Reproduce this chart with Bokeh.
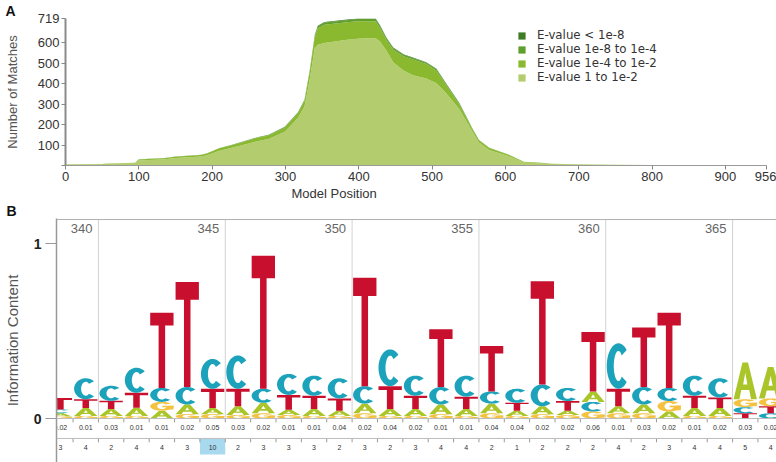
import numpy as np
from bokeh.plotting import figure
from bokeh.models import (ColumnDataSource, Legend, LegendItem, FixedTicker, Title,
                          Span, Range1d)
from bokeh.layouts import column
from bokeh.embed import file_html
from bokeh.resources import INLINE
from bokeh.core.properties import value

# ---------------- Panel A data ----------------
model_pos = [0, 50, 55, 95, 100, 135, 150, 185, 193, 210, 227, 250, 263, 277, 299, 317, 326,
             333, 340, 344, 353, 384, 398, 411, 423, 429, 438, 447, 461, 474, 492, 506, 519,
             537, 555, 564, 578, 605, 625, 654, 663, 700, 739, 800, 900, 956]
ev_1_to_1e2 = [5, 6, 8, 12, 25, 31, 37, 44, 50, 72, 87, 108, 120, 130, 165, 232, 290,
               420, 576, 590, 599, 615, 620, 623, 623, 607, 560, 505, 465, 441, 426, 402, 355,
               276, 166, 112, 76, 45, 15, 10, 7, 5, 3, 2, 2, 2]
ev_1e4_to_1e2 = [1, 1, 2, 2, 4, 5, 6, 7, 9, 12, 12, 15, 17, 17, 20, 23, 26,
                 36, 51, 80, 90, 86, 86, 83, 83, 66, 52, 61, 69, 77, 70, 62, 39,
                 24, 11, 10, 10, 6, 3, 2, 1, 1, 1, 1, 1, 1]
ev_1e8_to_1e4 = [0, 0, 0, 0, 1, 1, 1, 1, 1, 1, 2, 2, 2, 2, 3, 4, 5,
                 7, 9, 10, 10, 10, 10, 10, 10, 10, 9, 8, 8, 8, 7, 7, 6,
                 5, 3, 2, 1, 1, 0, 0, 0, 0, 0, 0, 0, 0]
ev_lt_1e8 = [0, 0, 0, 0, 0, 0, 0, 0, 0, 0, 1, 1, 1, 1, 1, 1, 2,
             2, 3, 3, 3, 3, 3, 3, 3, 3, 3, 3, 2, 2, 2, 2, 2,
             2, 1, 1, 0, 0, 0, 0, 0, 0, 0, 0, 0, 0]
series_labels = ["E-value 1 to 1e-2", "E-value 1e-4 to 1e-2",
                 "E-value 1e-8 to 1e-4", "E-value < 1e-8"]
x_ticks_A = [0, 100, 200, 300, 400, 500, 600, 700, 800, 900, 956]
y_ticks_A = [0, 100, 200, 300, 400, 500, 600, 719]

# ---------------- Panel B data ----------------
logo_pos = list(range(339, 368))
info_G = [0.012, 0.015, 0.015, 0.015, 0.05, 0.025, 0.025, 0.02, 0.03, 0.02, 0.015, 0.015,
          0.03, 0.015, 0.015, 0.025, 0.015, 0.03, 0.015, 0.025, 0.02, 0.04, 0.03, 0.03,
          0.06, 0.015, 0.015, 0.045, 0.045]
info_A = [0.018, 0.045, 0.04, 0.046, 0.045, 0.055, 0.035, 0.05, 0.06, 0.03, 0.04, 0.03,
          0.055, 0.04, 0.04, 0.055, 0.04, 0.055, 0.03, 0.045, 0.025, 0.06, 0.04, 0.05,
          0.04, 0.045, 0.045, 0.21, 0.18]
info_C = [0.022, 0.12, 0.086, 0.143, 0.08, 0.1, 0.17, 0.19, 0.08, 0.12, 0.115, 0.115,
          0.1, 0.21, 0.115, 0.1, 0.12, 0.07, 0.08, 0.125, 0.075, 0.055, 0.26, 0.1,
          0.075, 0.115, 0.11, 0.035, 0.03]
info_T = [0.065, 0.05, 0.046, 0.086, 0.43, 0.6, 0.11, 0.1, 0.76, 0.085, 0.075, 0.07,
          0.62, 0.13, 0.075, 0.33, 0.07, 0.26, 0.045, 0.59, 0.055, 0.34, 0.1, 0.34,
          0.43, 0.07, 0.06, 0.03, 0.04]
col_score = [0.02, 0.01, 0.03, 0.01, 0.01, 0.02, 0.05, 0.03, 0.02, 0.01, 0.01, 0.04,
             0.02, 0.04, 0.02, 0.01, 0.01, 0.04, 0.04, 0.02, 0.02, 0.06, 0.01, 0.03,
             0.02, 0.01, 0.02, 0.03, 0.02]
col_count = [3, 4, 2, 4, 4, 3, 10, 2, 3, 3, 3, 2, 3, 2, 3, 4, 4, 2, 1, 2, 2, 2, 4, 2,
             3, 4, 4, 5, 4]
label_pos = [340, 345, 350, 355, 360, 365]

# ---------------- styles ----------------
AREA_COLORS = ["#b3cc6e", "#8ab92f", "#5f9f2a", "#3d7b24"]
LOGO_COLORS = {"A": "#a9c52a", "C": "#1ca3bb", "G": "#f4c141", "T": "#c8102e"}
SANS = "Liberation Sans"

# ================= Panel A =================
pA = figure(width=776, height=200, x_range=Range1d(0, 956), y_range=Range1d(0, 719),
            output_backend="svg", toolbar_location=None,
            min_border_left=65, min_border_right=10, min_border_top=13, min_border_bottom=35)
pA.outline_line_color = None
pA.xgrid.visible = False
pA.ygrid.visible = False

srcA = ColumnDataSource(dict(x=model_pos, s1=ev_1_to_1e2, s2=ev_1e4_to_1e2,
                             s3=ev_1e8_to_1e4, s4=ev_lt_1e8))
rs = pA.varea_stack(stackers=["s1", "s2", "s3", "s4"], x="x", color=AREA_COLORS, source=srcA)

items = [LegendItem(label=series_labels[i], renderers=[rs[i]]) for i in (3, 2, 1, 0)]
legend = Legend(items=items, location=(452, 81), padding=0, margin=0, spacing=0,
                glyph_width=9, glyph_height=9, label_height=14, label_standoff=11,
                label_text_font="DejaVu Sans", label_text_font_size="11.8px",
                label_text_line_height=1.0,
                label_text_color="#333333", border_line_color=None,
                background_fill_alpha=0)
pA.add_layout(legend)

pA.xaxis.ticker = FixedTicker(ticks=x_ticks_A)
pA.yaxis.ticker = FixedTicker(ticks=y_ticks_A)
pA.yaxis.major_label_overrides = {0: ""}
for ax in (pA.xaxis[0], pA.yaxis[0]):
    ax.major_label_text_font = SANS
    ax.major_label_text_font_size = "13px"
    ax.major_label_text_color = "#333333"
    ax.major_tick_in = 0
    ax.major_tick_out = 4
    ax.minor_tick_in = 0
    ax.minor_tick_out = 0
    ax.major_tick_line_color = "#888888"
    ax.major_label_standoff = 2
pA.yaxis.axis_line_color = "#8a8a8a"
pA.yaxis.axis_line_width = 2
pA.xaxis.axis_line_color = "#9a9a9a"
pA.yaxis.axis_label = "Number of Matches"
pA.yaxis.axis_label_text_font = SANS
pA.yaxis.axis_label_text_font_size = "13px"
pA.yaxis.axis_label_text_font_style = "normal"
pA.yaxis.axis_label_text_color = "#555555"
pA.yaxis.axis_label_standoff = 15

pA.add_layout(Title(text="A", align="left", offset=-60, standoff=0,
                    text_font=SANS, text_font_size="14px", text_font_style="bold",
                    text_color="#111111", text_line_height=0.7), "above")
pA.add_layout(Title(text="Model Position", align="left", offset=226, standoff=0,
                    text_font=SANS, text_font_size="13px", text_font_style="normal",
                    text_color="#333333", text_line_height=0.9), "below")

# ================= Panel B =================
pB = figure(width=776, height=262, x_range=Range1d(338.846, 367.232),
            y_range=Range1d(-0.2514, 1.1429), x_axis_location=None,
            output_backend="svg", toolbar_location=None,
            min_border_left=55, min_border_right=0, min_border_top=18, min_border_bottom=0)
pB.outline_line_color = None
pB.xgrid.visible = False
pB.ygrid.visible = False

# keep each panel's frame where it is (no cross-plot frame alignment)
for fig in (pA, pB):
    try:
        fig.frame_align = False
    except Exception:
        pass


def arc_ring(a0, a1, rxo, ryo, rxi, ryi, n=48):
    t = np.radians(np.linspace(a0, a1, n))
    gx = np.concatenate([0.5 + rxo * np.cos(t), 0.5 + rxi * np.cos(t[::-1])])
    gy = np.concatenate([0.5 + ryo * np.sin(t), 0.5 + ryi * np.sin(t[::-1])])
    return gx, gy


def rect(x0, x1, y0, y1):
    return np.array([x0, x1, x1, x0]), np.array([y0, y0, y1, y1])


GLYPHS = {
    "T": [(np.array([0, 1, 1, 0.64, 0.64, 0.36, 0.36, 0]),
           np.array([1, 1, 0.83, 0.83, 0, 0, 0.83, 0.83]))],
    "C": [arc_ring(45, 315, 0.5, 0.5, 0.2, 0.33)],
    "G": [arc_ring(40, 360, 0.5, 0.5, 0.2, 0.33), rect(0.52, 1.0, 0.40, 0.56),
          rect(0.78, 1.0, 0.12, 0.56)],
    "A": [(np.array([0, 0.38, 0.62, 1, 0.75, 0.67, 0.33, 0.25]),
           np.array([0, 1, 1, 0, 0, 0.25, 0.25, 0]))],
}
HOLES = {"A": [(np.array([0.41, 0.59, 0.5]), np.array([0.40, 0.40, 0.72]))]}

letters = {"A": info_A, "C": info_C, "G": info_G, "T": info_T}
lx, ly, lc, hx, hy = [], [], [], [], []
for i, pos in enumerate(logo_pos):
    stack = sorted((letters[k][i], k) for k in "ACGT")
    base = 0.0
    for h, k in stack:
        for gx, gy in GLYPHS[k]:
            lx.append(list(pos - 0.46 + 0.92 * gx))
            ly.append(list(base + h * gy))
            lc.append(LOGO_COLORS[k])
        for gx, gy in HOLES.get(k, []):
            hx.append(list(pos - 0.46 + 0.92 * gx))
            hy.append(list(base + h * gy))
        base += h

# grid lines at every 5th position boundary
pB.segment(x0=[p + 0.5 for p in label_pos], y0=0, x1=[p + 0.5 for p in label_pos],
           y1=1.137, line_color="#d2d2d2", line_width=1)
pB.add_layout(Span(location=1.137, dimension="width", line_color="#b0b0b0", line_width=1))
pB.add_layout(Span(location=0, dimension="width", line_color="#bdbdbd", line_width=1))
pB.add_layout(Span(location=-0.114, dimension="width", line_color="#bdbdbd", line_width=1))

# highlighted count cell
hi = int(np.argmax(col_count))
pB.quad(left=[logo_pos[hi] - 0.5], right=[logo_pos[hi] + 0.5], top=[-0.117],
        bottom=[-0.205], fill_color="#a9d9ef", line_color=None)

pB.patches(xs="xs", ys="ys", fill_color="c", line_color=None,
           source=ColumnDataSource(dict(xs=lx, ys=ly, c=lc)))
pB.patches(xs=hx, ys=hy, fill_color="white", line_color=None)

# cell separators
edges = [p + 0.5 for p in logo_pos]
pB.segment(x0=edges, y0=0, x1=edges, y1=-0.022, line_color="#999999", line_width=1)
pB.segment(x0=edges, y0=-0.114, x1=edges, y1=-0.136, line_color="#999999", line_width=1)

tsrc = ColumnDataSource(dict(x=logo_pos, s=[f"{v:.2f}" for v in col_score],
                             n=[str(v) for v in col_count]))
pB.text(x="x", y=-0.052, text="s", source=tsrc, text_font=value(SANS), text_font_size="7px",
        text_align="center", text_baseline="middle", text_color="#333333")
pB.text(x="x", y=-0.166, text="n", source=tsrc, text_font=value(SANS), text_font_size="7px",
        text_align="center", text_baseline="middle", text_color="#333333")

pB.text(x=[p + 0.5 for p in label_pos], y=1.086, text=[str(p) for p in label_pos],
        x_offset=-6, text_font=value(SANS), text_font_size="13px", text_align="right",
        text_baseline="middle", text_color="#666666")

ay = pB.yaxis[0]
ay.ticker = FixedTicker(ticks=[0, 1])
ay.major_label_text_font = SANS
ay.major_label_text_font_size = "14px"
ay.major_label_text_font_style = "bold"
ay.major_label_text_color = "#222222"
ay.major_tick_in = 0
ay.major_tick_out = 11
ay.minor_tick_in = 0
ay.minor_tick_out = 0
ay.major_tick_line_color = "#999999"
ay.major_label_standoff = 4
ay.axis_line_color = "#999999"
ay.axis_line_width = 1.5
ay.axis_label = "Information Content"
ay.axis_label_text_font = SANS
ay.axis_label_text_font_size = "15px"
ay.axis_label_text_font_style = "normal"
ay.axis_label_text_color = "#555555"
ay.axis_label_standoff = 10

pB.add_layout(Title(text="B", align="left", offset=-50, standoff=0,
                    text_font=SANS, text_font_size="14px", text_font_style="bold",
                    text_color="#111111", text_line_height=0.7), "above")

layout = column(pA, pB)
open("out.html", "w").write(file_html(layout, INLINE))
